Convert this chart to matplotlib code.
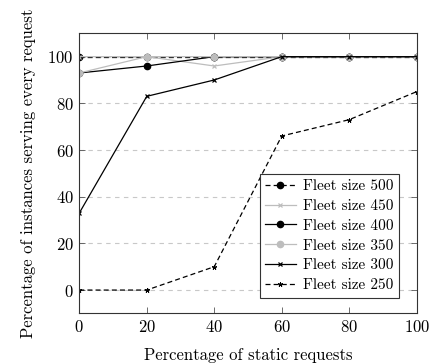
import matplotlib
matplotlib.use("Agg")
import matplotlib.pyplot as plt

plt.rcParams['font.family'] = 'serif'
plt.rcParams['font.serif'] = ['cmr10']
plt.rcParams['mathtext.fontset'] = 'cm'
plt.rcParams['axes.formatter.use_mathtext'] = True
plt.rcParams['font.size'] = 12

# porcentaje de pedidos estaticos
x = [0, 20, 40, 60, 80, 100]

flota_500 = [100, 100, 100, 100, 100, 100]
flota_450 = [100, 100, 96, 100, 100, 100]
flota_400 = [93, 96, 100, 100, 100, 100]
flota_350 = [93, 100, 100, 100, 100, 100]
flota_300 = [33, 83, 90, 100, 100, 100]
flota_250 = [0, 0, 10, 66, 73, 85]

gris = '#bdbdbd'

fig = plt.figure(figsize=(4.3, 3.64), dpi=100)
ax = fig.add_axes([0.1844, 0.139, 0.7846, 0.7695])

ax.plot(x, flota_500, color='black', ls=(0, (4, 2.5)), lw=0.9, marker='o', ms=4.5,
        label='Fleet size 500')
ax.plot(x, flota_450, color=gris, lw=0.9, marker='x', ms=3.5, mew=0.9,
        label='Fleet size 450')
ax.plot(x, flota_400, color='black', lw=0.9, marker='o', ms=4.5,
        label='Fleet size 400')
ax.plot(x, flota_350, color=gris, lw=0.9, marker='o', ms=4.5,
        label='Fleet size 350')
ax.plot(x, flota_300, color='black', lw=0.9, marker='x', ms=3.5, mew=0.9,
        label='Fleet size 300')
ax.plot(x, flota_250, color='black', ls=(0, (4, 2.5)), lw=0.9, marker=(5, 2, 0),
        ms=3.5, mew=0.7, label='Fleet size 250')

# limites y ticks estilo pgfplots
ax.set_xlim(0, 100)
ax.set_ylim(-10, 110)
ax.set_xticks(x)
ax.set_yticks([0, 20, 40, 60, 80, 100])
ax.tick_params(direction='in', top=True, right=True, length=4, width=0.6,
               color='#555555', pad=4)
ax.grid(axis='y', color='#c8c8c8', ls=(0, (4, 4)), lw=0.8)
ax.set_axisbelow(True)
for s in ax.spines.values():
    s.set_linewidth(0.8)
    s.set_color('#333333')

ax.set_xlabel('Percentage of static requests', labelpad=9)
ax.set_ylabel('Percentage of instances serving every request', labelpad=8)

leg = ax.legend(loc='lower right', bbox_to_anchor=(0.971, 0.029), fancybox=False,
                framealpha=1, edgecolor='#333333', handlelength=2.0,
                handletextpad=0.5, borderpad=0.35, labelspacing=0.4,
                fontsize=11)
leg.get_frame().set_linewidth(0.8)

fig.savefig('out.png', dpi=100)
